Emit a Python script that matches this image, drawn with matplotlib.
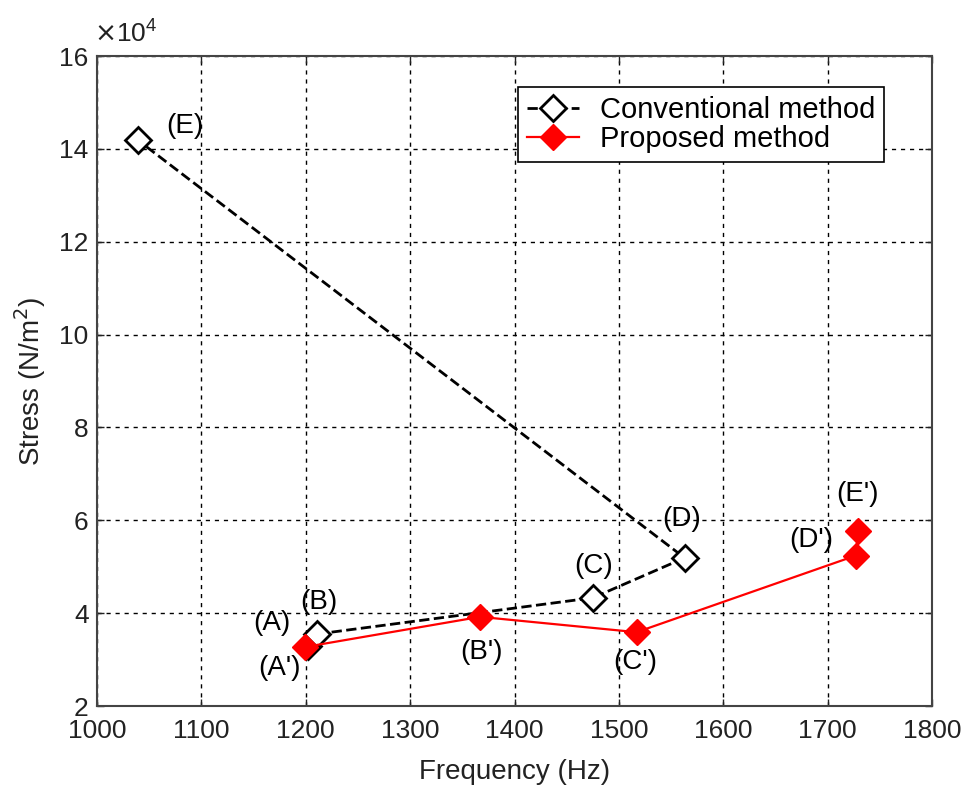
import matplotlib
matplotlib.use("Agg")
import matplotlib.pyplot as plt

# Stress (x10^4 N/m^2) versus natural frequency (Hz)
conv_labels = ["(A)", "(B)", "(C)", "(D)", "(E)"]
conv_freq = [1202, 1211, 1475, 1563, 1039]
conv_stress = [3.30, 3.55, 4.33, 5.19, 14.19]

prop_labels = ["(A')", "(B')", "(C')", "(D')", "(E')"]
prop_freq = [1199, 1367, 1517, 1727, 1729]
prop_stress = [3.27, 3.92, 3.59, 5.24, 5.76]

x_ticks = [1000, 1100, 1200, 1300, 1400, 1500, 1600, 1700, 1800]
y_ticks = [2, 4, 6, 8, 10, 12, 14, 16]

# label positions (data coords) for each point annotation
conv_text_pos = [(1168, 3.78), (1213, 4.25), (1476, 5.02), (1560, 6.02), (1084, 14.5)]
prop_text_pos = [(1175, 2.82), (1368, 3.16), (1516, 2.95), (1684, 5.57), (1729, 6.57)]

plt.rcParams['font.family'] = ['Liberation Sans', 'DejaVu Sans']
FS_TICK = 19
FS_TEXT = 20

fig = plt.figure(figsize=(9.66, 7.85), dpi=100)
ax = fig.add_axes([97 / 966, 1 - 706 / 785, (932 - 97) / 966, (706 - 56) / 785])

ax.plot(conv_freq, conv_stress, color='black', linestyle='--', lw=2.0,
        marker='D', markersize=13, markerfacecolor='white',
        markeredgecolor='black', markeredgewidth=2.0,
        label='Conventional method', zorder=3)
ax.plot(prop_freq, prop_stress, color='red', linestyle='-', lw=1.6,
        marker='D', markersize=13.5, markerfacecolor='red',
        markeredgecolor='red', markeredgewidth=1.0,
        label='Proposed method', zorder=4)

for lab, (tx, ty) in zip(conv_labels, conv_text_pos):
    ax.text(tx, ty, lab, fontsize=FS_TEXT, ha='center', va='center', zorder=5)
for lab, (tx, ty) in zip(prop_labels, prop_text_pos):
    ax.text(tx, ty, lab, fontsize=FS_TEXT, ha='center', va='center', zorder=5)

ax.set_xlim(1000, 1800)
ax.set_ylim(2, 16)
ax.set_xticks(x_ticks)
ax.set_yticks(y_ticks)
ax.tick_params(direction='in', length=5, width=1, labelsize=FS_TICK,
               top=True, right=True, colors='#222222')
ax.tick_params(axis='x', pad=9)
ax.tick_params(axis='y', pad=6)
ax.grid(True, color='black', linestyle=(0, (3, 3.5)), linewidth=1.0)
ax.set_axisbelow(True)
for sp in ax.spines.values():
    sp.set_color('#444444')
    sp.set_linewidth(1.5)

ax.set_xlabel('Frequency (Hz)', fontsize=FS_TEXT, color='#222222', labelpad=12)
ax.set_ylabel('Stress (N/m$^2$)', fontsize=FS_TEXT, color='#222222', labelpad=8)

fig.text(94 / 966, 1 - 34 / 785, r'$\times\mathregular{10^4}$', fontsize=FS_TICK,
         ha='left', va='center', color='#222222')

leg = ax.legend(loc='upper left', bbox_to_anchor=(518 / 966, 1 - 87 / 785),
                bbox_transform=fig.transFigure, borderaxespad=0,
                fontsize=21, fancybox=False, framealpha=1, edgecolor='black',
                handlelength=1.8, borderpad=0.3, labelspacing=0.05,
                handletextpad=0.7)
leg.get_frame().set_linewidth(1.2)

fig.savefig('out.png', dpi=100, facecolor='white')
